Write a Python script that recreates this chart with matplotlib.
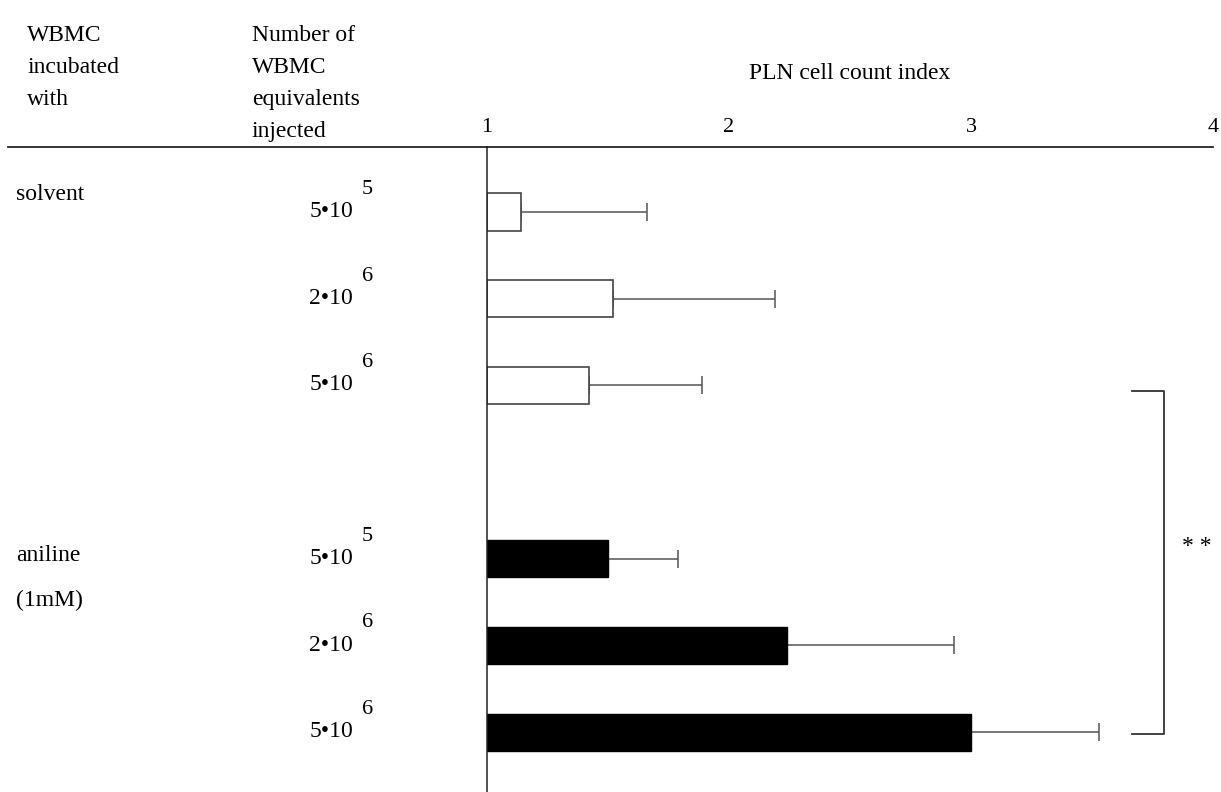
import numpy as np
import matplotlib
matplotlib.use("Agg")
from matplotlib import pyplot as plt
from matplotlib import transforms
from matplotlib.lines import Line2D

plt.rcParams['font.family'] = ['Liberation Serif', 'DejaVu Serif']

# data
groups = ['solvent', 'aniline\n(1mM)']
dose_base = ['5\u202210', '2\u202210', '5\u202210']
dose_exp = ['5', '6', '6']
index_solvent = [1.14, 1.52, 1.42]
index_aniline = [1.50, 2.24, 3.00]
err_solvent = [0.52, 0.67, 0.47]
err_aniline = [0.29, 0.69, 0.53]
xticks = [1, 2, 3, 4]

W, H = 1221, 792
fig = plt.figure(figsize=(W / 100, H / 100), dpi=100)
ax_left, ax_right, ax_top = 487, 1213, 147
ax = fig.add_axes([ax_left / W, 0, (ax_right - ax_left) / W, (H - ax_top) / H])

def px(x, y):
    return x / W, 1 - y / H

n = len(dose_base)
ypos_s = np.arange(n)
ypos_a = np.arange(n) + n + 1
bar_h = 0.43

ax.barh(ypos_s, np.array(index_solvent) - 1, left=1, height=bar_h,
        color='white', edgecolor='#444444', linewidth=1.2, zorder=2)
ax.barh(ypos_a, np.array(index_aniline) - 1, left=1, height=bar_h,
        color='black', edgecolor='black', linewidth=1.0, zorder=2)

# one-sided error bars
for ypos, vals, errs in [(ypos_s, index_solvent, err_solvent),
                         (ypos_a, index_aniline, err_aniline)]:
    ax.errorbar(vals, ypos, xerr=[np.zeros(n), errs], fmt='none',
                ecolor='#555555', elinewidth=1.1, capsize=6.5, capthick=1.1, zorder=1)

ax.set_xlim(1, 4)
ax.set_ylim(6.69, -0.75)
ax.xaxis.tick_top()
ax.set_xticks(xticks)
ax.set_xticklabels([str(t) for t in xticks])
ax.tick_params(axis='x', length=0, pad=7, labelsize=16)
ax.set_yticks([])
for s in ['right', 'bottom']:
    ax.spines[s].set_visible(False)
ax.spines['top'].set_linewidth(1.3)
ax.spines['left'].set_linewidth(1.1)
ax.spines['top'].set_color('#222222')
ax.spines['left'].set_color('#222222')

# header line extends over the label columns
x0, y0 = px(8, ax_top)
x1, _ = px(ax_left, ax_top)
fig.add_artist(Line2D([x0, x1], [y0, y0], color='#222222', lw=1.3))

fs = 17
for i, line in enumerate(['WBMC', 'incubated', 'with']):
    fig.text(*px(27, 41 + i * 32), line, fontsize=fs, va='baseline', ha='left')
for i, line in enumerate(['Number of', 'WBMC', 'equivalents', 'injected']):
    fig.text(*px(252, 41 + i * 32), line, fontsize=fs, va='baseline', ha='left')
fig.text(*px((ax_left + ax_right) / 2, 79), 'PLN cell count index', fontsize=fs,
         va='baseline', ha='center')

# row labels follow the bar positions
tr = transforms.blended_transform_factory(fig.transFigure, ax.transData)
for ypos in [ypos_s, ypos_a]:
    for y, b, e in zip(ypos, dose_base, dose_exp):
        ax.text(353 / W, y + 0.058, b, transform=tr, fontsize=fs,
                ha='right', va='baseline', clip_on=False)
        ax.text(362 / W, y - 0.21, e, transform=tr, fontsize=16,
                ha='left', va='baseline', clip_on=False)

ax.text(16 / W, ypos_s[0] - 0.14, groups[0], transform=tr, fontsize=fs,
        ha='left', va='baseline', clip_on=False)
for k, line in enumerate(groups[1].split('\n')):
    ax.text(16 / W, ypos_a[0] + 0.03 + k * 0.52, line, transform=tr, fontsize=fs,
            ha='left', va='baseline', clip_on=False)

# significance bracket between solvent 5e6 and aniline 5e6
bx, arm = 3.798, 3.665
yb0, yb1 = ypos_s[-1] + 0.06, ypos_a[-1] + 0.02
ax.plot([arm, bx, bx, arm], [yb0, yb0, yb1, yb1], color='#333333', lw=1.3,
        clip_on=False, zorder=3)
ax.text(3.872, (yb0 + yb1) / 2 - 0.12, '* *', fontsize=fs, ha='left',
        va='baseline', clip_on=False)

fig.savefig('out.png', dpi=100)
